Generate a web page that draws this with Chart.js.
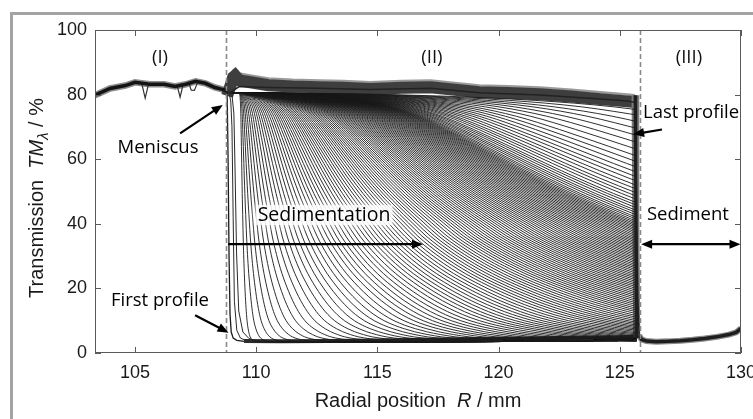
<!DOCTYPE html>
<html>
<head>
<meta charset="utf-8">
<script src="https://cdn.jsdelivr.net/npm/chart.js@4.4.1/dist/chart.umd.min.js"></script>
<style>
  html, body { margin: 0; padding: 0; background: #fff; }
  #wrap { width: 753px; height: 419px; }
</style>
</head>
<body>
<div id="wrap"><canvas id="chart" width="753" height="419"></canvas></div>
<script>
// axis ticks
const xTicks = [105, 110, 115, 120, 125, 130];
const yTicks = [0, 20, 40, 60, 80, 100];

// region (I): air above the meniscus
const regionIX = [103.35, 103.97, 104.6, 105.0, 105.6, 106.2, 106.65, 107.1, 107.5, 107.9, 108.3, 108.6, 108.8];
const regionIT = [79.8, 81.9, 82.8, 83.8, 83.2, 83.2, 82.5, 83.2, 84.1, 83.5, 82.2, 81.6, 81.2];
// single profiles with bubble artefacts in region (I)
const dipX = [105.28, 105.42, 105.56, null, 106.74, 106.86, 106.98, null, 107.22, 107.32, 107.45, 107.58];
const dipT = [83.4, 78.9, 83.3, null, 82.8, 79.2, 82.9, null, 83.6, 81.4, 81.3, 83.7];

// clear supernatant plateau in region (II)
const plateauX = [108.8, 108.95, 109.05, 109.13, 109.3, 109.7, 110.5, 111.5, 112.6, 113.6, 114.7, 116.0, 117.2, 118.2, 119.2, 120.4, 121.7, 123.0, 124.2, 125.3, 125.62];
const plateauEdgeT = [81.5, 85.0, 87.5, 88.0, 86.5, 86.0, 85.0, 84.6, 84.4, 84.2, 83.8, 84.2, 84.4, 83.6, 82.8, 82.6, 82.2, 81.5, 80.7, 80.0, 79.8];
const plateauCoreT = [79.6, 83.0, 85.4, 85.9, 84.4, 83.9, 82.9, 82.5, 82.3, 82.1, 81.7, 82.1, 82.3, 81.5, 80.7, 80.5, 80.1, 79.4, 78.6, 77.9, 77.7];

// earliest profiles, right after the start
const profile1X = [108.8, 108.84, 108.88, 108.92, 108.97, 109.05, 109.2, 109.5];
const profile1T = [81.2, 60, 30, 12, 6.5, 4.6, 3.9, 3.6];
const profile2X = [108.85, 108.95, 109.0, 109.05, 109.1, 109.2, 109.35, 109.6];
const profile2T = [81.5, 78, 70, 42, 16, 7, 4.6, 3.8];
const profile3X = [108.9, 109.0, 109.08, 109.13, 109.19, 109.28, 109.45, 109.7, 110.0];
const profile3T = [81.5, 80, 74, 56, 31, 13, 6.5, 4.5, 3.8];

// traced front shape: relative position u vs. transmission
const shapeOrigin = 109.3;
const shapeU = [0, 0.1, 0.2, 0.3, 0.38, 0.45, 0.52, 0.6, 0.68, 0.75, 0.83, 0.9, 1.0, 1.08, 1.15, 1.22, 1.3, 1.4, 1.5, 1.62, 1.75, 1.88, 2.0, 2.15, 2.3, 2.45, 2.6, 2.8, 3.0, 3.3, 3.7, 4.2];
const shapeT = [80.5, 80.3, 79.6, 78.2, 76.2, 73.3, 69.2, 64.0, 58.7, 54.2, 49.4, 45.5, 40.3, 36.2, 33.2, 30.5, 27.7, 24.6, 21.9, 19.0, 16.2, 13.8, 11.9, 10.0, 8.6, 7.5, 6.6, 5.7, 5.0, 4.4, 3.9, 3.6];

// radial position where each profile crosses 40 %
const frontR = [
  109.45, 109.58, 109.72, 109.87, 110.03, 110.2, 110.38, 110.56, 110.75, 110.94,
  111.13, 111.32, 111.51, 111.7, 111.89, 112.08, 112.27, 112.46, 112.65, 112.83,
  113.01, 113.19, 113.37, 113.55, 113.73, 113.91, 114.09, 114.26, 114.43, 114.6,
  114.77, 114.94, 115.11, 115.28, 115.45, 115.62, 115.79, 115.96, 116.12, 116.28,
  116.44, 116.6, 116.76, 116.92, 117.08, 117.24, 117.4, 117.56, 117.72, 117.87,
  118.02, 118.17, 118.32, 118.47, 118.62, 118.77, 118.92, 119.07, 119.22, 119.37,
  119.52, 119.67, 119.82, 119.97, 120.12, 120.27, 120.42, 120.57, 120.72, 120.87,
  121.02, 121.17, 121.32, 121.47, 121.62, 121.77, 121.92, 122.07, 122.22, 122.37,
  122.52, 122.67, 122.82, 122.97, 123.12, 123.27, 123.42, 123.57, 123.72, 123.87,
  124.02, 124.17, 124.32, 124.47, 124.62, 124.77, 124.92, 125.07, 125.22, 125.37,
  125.52, 125.68, 125.85, 126.05, 126.25, 126.5, 126.75, 127.0, 127.3, 127.6,
  127.9, 128.3, 128.7, 129.1, 129.6, 130.1, 130.7, 131.3, 132.0, 132.8,
  133.7, 134.7, 136.0, 137.5, 139.2, 141.2, 143.5, 146.5, 150.0
];

// turbid floor below the fronts
const floorX = [109.5, 111, 113, 115, 117, 119, 121, 123, 125, 125.6, 126.0];
const floorT = [3.6, 3.4, 3.3, 3.3, 3.4, 3.5, 3.6, 3.8, 4.0, 4.2, 4.3];
const floorBandT = [3.7, 3.6, 3.7, 3.9, 4.1, 4.3, 4.5, 4.7, 4.9, 5.0, 5.0];

// the cell bottom cuts every profile
const cellBottom = 125.7;
const dropX = [125.63, 125.66, 125.7];
const dropT = [79.8, 42, 4.6];
const lastProfileX = [108.9, 109.3, 110.5, 112.6, 114.7, 117.2, 119.2, 121.7, 124.2, 125.3, 125.62, 125.68, 125.74, 125.8];
const lastProfileT = [80.5, 82.5, 82.2, 82.0, 81.6, 82.0, 80.6, 79.9, 78.6, 78.0, 77.6, 55, 18, 5];

// region (III): sediment
const sedimentX = [125.8, 125.9, 126.1, 126.5, 127.0, 127.5, 128.0, 128.5, 129.0, 129.5, 129.8, 130.0];
const sedimentT = [5.4, 4.2, 3.7, 3.5, 3.6, 3.8, 4.1, 4.5, 5.0, 5.7, 6.4, 7.6];

const meniscusR = 108.74;
const bottomR = 125.82;

const pairs = (xs, ys) => xs.map((x, i) => ({ x: x, y: x === null ? null : ys[i] }));

function buildProfile(front) {
  const pts = [{ x: 108.9, y: 80.5 }];
  const span = front - shapeOrigin;
  for (let i = 0; i < shapeU.length; i++) {
    const x = shapeOrigin + shapeU[i] * span;
    if (x > 108.95) pts.push({ x: x, y: shapeT[i] });
    if (x >= cellBottom) return pts;   // drawn up to the cut only
  }
  // a profile whose front has fully passed continues along the floor
  const lastX = pts[pts.length - 1].x;
  floorX.forEach((x, i) => {
    if (x > lastX + 0.05) pts.push({ x: x, y: floorT[i] });
  });
  return pts;
}

const line = (data, color, width, order, extra) => Object.assign({
  data: data,
  borderColor: color,
  borderWidth: width,
  pointRadius: 0,
  fill: false,
  order: order,
  tension: 0
}, extra || {});

const datasets = [
  line(pairs(regionIX, regionIT), '#8c8c8c', 6.5, 30),
  line(pairs(regionIX, regionIT), '#141414', 3.5, 2),
  line(pairs(dipX, dipT), '#333', 1.2, 3, { spanGaps: false }),
  line(pairs(plateauX, plateauEdgeT), '#9a9a9a', 2.5, 26),
  line(pairs(plateauX, plateauCoreT), '#3e3e3e', 12, 25),
  line(pairs(floorX, floorBandT), '#2c2c2c', 4, 23, { cutAt: cellBottom }),
  line(pairs(dropX, dropT), '#7a7a7a', 7, 22),
  line(pairs(dropX, dropT), '#1e1e1e', 3, 5),
  line(pairs(sedimentX, sedimentT), '#8a8a8a', 6, 24),
  line(pairs(sedimentX, sedimentT), '#1e1e1e', 3.5, 4),
  line(pairs(profile1X, profile1T), '#1a1a1a', 1.3, 6),
  line(pairs(profile2X, profile2T), '#2a2a2a', 1, 7),
  line(pairs(profile3X, profile3T), '#2a2a2a', 1, 7),
  line(pairs(lastProfileX, lastProfileT), '#222', 1.5, 8)
];
frontR.forEach(r => {
  datasets.push(line(buildProfile(r), 'rgba(26,26,26,0.9)', 1, 10,
    { cubicInterpolationMode: 'monotone', cutAt: cellBottom }));
});

const tickFont = { family: '"Liberation Sans", Arial, sans-serif', size: 18 };
const labelFont = '18.5px "Open Sans", "Noto Sans", sans-serif';

// profiles stop at the cell bottom
const cellCut = {
  id: 'cellCut',
  beforeDatasetDraw(chart, args) {
    const ds = chart.data.datasets[args.index];
    if (!ds.cutAt) return;
    const a = chart.chartArea;
    const xr = chart.scales.x.getPixelForValue(ds.cutAt);
    chart.ctx.save();
    chart.ctx.beginPath();
    chart.ctx.rect(a.left, a.top, xr - a.left, a.bottom - a.top);
    chart.ctx.clip();
  },
  afterDatasetDraw(chart, args) {
    if (chart.data.datasets[args.index].cutAt) chart.ctx.restore();
  }
};

function arrowHead(ctx, x1, y1, x2, y2, len, half) {
  const a = Math.atan2(y2 - y1, x2 - x1);
  ctx.beginPath();
  ctx.moveTo(x2, y2);
  ctx.lineTo(x2 - len * Math.cos(a) + half * Math.sin(a), y2 - len * Math.sin(a) - half * Math.cos(a));
  ctx.lineTo(x2 - len * Math.cos(a) - half * Math.sin(a), y2 - len * Math.sin(a) + half * Math.cos(a));
  ctx.closePath();
  ctx.fill();
}

function arrow(ctx, x1, y1, x2, y2, both) {
  const len = 11, half = 4.5;
  const a = Math.atan2(y2 - y1, x2 - x1);
  ctx.beginPath();
  ctx.moveTo(both ? x1 + (len - 2) * Math.cos(a) : x1, both ? y1 + (len - 2) * Math.sin(a) : y1);
  ctx.lineTo(x2 - (len - 2) * Math.cos(a), y2 - (len - 2) * Math.sin(a));
  ctx.stroke();
  arrowHead(ctx, x1, y1, x2, y2, len, half);
  if (both) arrowHead(ctx, x2, y2, x1, y1, len, half);
}

const decorations = {
  id: 'decorations',
  beforeDraw(chart) {
    const ctx = chart.ctx;
    ctx.save();
    ctx.fillStyle = '#fff';
    ctx.fillRect(0, 0, chart.width, chart.height);
    // outer frame, open to the right and bottom
    ctx.strokeStyle = '#a3a3a3';
    ctx.lineWidth = 3;
    ctx.beginPath();
    ctx.moveTo(11.5, chart.height + 5);
    ctx.lineTo(11.5, 13.5);
    ctx.lineTo(chart.width + 5, 13.5);
    ctx.stroke();
    ctx.restore();
  },
  afterDraw(chart) {
    const ctx = chart.ctx;
    const xs = chart.scales.x, ys = chart.scales.y;
    const a = chart.chartArea;
    const px = v => xs.getPixelForValue(v);
    const py = v => ys.getPixelForValue(v);
    ctx.save();

    // region boundaries
    ctx.strokeStyle = '#8a8a8a';
    ctx.lineWidth = 1.6;
    ctx.setLineDash([5, 3]);
    [meniscusR, bottomR].forEach(r => {
      ctx.beginPath();
      ctx.moveTo(Math.round(px(r)) + 0.5, a.top);
      ctx.lineTo(Math.round(px(r)) + 0.5, a.bottom);
      ctx.stroke();
    });
    ctx.setLineDash([]);

    // plot frame and inward ticks
    ctx.strokeStyle = '#5a5a5a';
    ctx.lineWidth = 1;
    ctx.strokeRect(a.left + 0.5, a.top + 0.5, a.right - a.left - 1, a.bottom - a.top - 1);
    ctx.beginPath();
    xTicks.forEach(v => {
      const x = Math.round(px(v)) + 0.5;
      ctx.moveTo(x, a.bottom); ctx.lineTo(x, a.bottom - 6);
      ctx.moveTo(x, a.top); ctx.lineTo(x, a.top + 6);
    });
    yTicks.forEach(v => {
      const y = Math.round(py(v)) + 0.5;
      ctx.moveTo(a.left, y); ctx.lineTo(a.left + 6, y);
      ctx.moveTo(a.right, y); ctx.lineTo(a.right - 6, y);
    });
    ctx.stroke();

    // region names
    ctx.fillStyle = '#111';
    ctx.font = labelFont;
    ctx.textAlign = 'center';
    ctx.textBaseline = 'middle';
    ctx.fillText('(I)', px(106.03), py(91.5));
    ctx.fillText('(II)', px(117.25), py(91.5));
    ctx.fillText('(III)', px(127.85), py(91.5));

    // labels with arrows
    ctx.strokeStyle = '#000';
    ctx.fillStyle = '#000';
    ctx.lineWidth = 2.2;
    ctx.fillText('Meniscus', px(105.95), py(63.7));
    arrow(ctx, px(106.86), py(68.0), px(108.62), py(76.8));
    ctx.fillText('First profile', px(106.03), py(16.1));
    arrow(ctx, px(107.48), py(11.7), px(108.86), py(6.3));

    ctx.textAlign = 'left';
    ctx.fillText('Last profile', px(125.96), py(74.5));
    arrow(ctx, px(126.74), py(69.2), px(125.55), py(67.7));
    ctx.fillText('Sediment', px(126.12), py(42.7));
    arrow(ctx, px(125.88), py(33.7), px(129.98), py(33.7), true);

    // sedimentation label on a soft white patch
    ctx.font = '19.5px "Open Sans", "Noto Sans", sans-serif';
    const sw = ctx.measureText('Sedimentation').width;
    const sx = px(112.8) - sw / 2, sy = py(42.7);
    ctx.save();
    ctx.shadowColor = 'rgba(255,255,255,1)';
    ctx.shadowBlur = 10;
    ctx.fillStyle = 'rgba(255,255,255,0.75)';
    ctx.fillRect(sx - 2, sy - 10, sw + 4, 20);
    ctx.restore();
    ctx.fillStyle = '#000';
    ctx.fillText('Sedimentation', sx, sy);
    arrow(ctx, px(108.84), py(33.7), px(116.88), py(33.7));

    // axis titles
    const base = '20px "Liberation Sans", Arial, sans-serif';
    const ital = 'italic 20px "Liberation Sans", Arial, sans-serif';
    const drawParts = (parts, cx, cy, rot) => {
      ctx.save();
      ctx.translate(cx, cy);
      ctx.rotate(rot);
      ctx.textAlign = 'left';
      ctx.textBaseline = 'alphabetic';
      let total = 0;
      parts.forEach(p => { ctx.font = p.f; p.w = ctx.measureText(p.t).width; total += p.w; });
      let x = -total / 2;
      parts.forEach(p => {
        ctx.font = p.f;
        ctx.fillStyle = '#1a1a1a';
        ctx.fillText(p.t, x, p.dy || 0);
        x += p.w;
      });
      ctx.restore();
    };
    drawParts([
      { t: 'Radial position  ', f: base },
      { t: 'R', f: ital },
      { t: ' / mm', f: base }
    ], 418, 407, 0);
    drawParts([
      { t: 'Transmission  ', f: base },
      { t: 'TM', f: ital },
      { t: 'λ', f: 'italic 15px "Liberation Sans", Arial, sans-serif', dy: 5 },
      { t: ' / %', f: base }
    ], 43, 198, -Math.PI / 2);

    ctx.restore();
  }
};

new Chart(document.getElementById('chart'), {
  type: 'line',
  data: { datasets: datasets },
  plugins: [cellCut, decorations],
  options: {
    responsive: false,
    animation: false,
    devicePixelRatio: 1,
    events: [],
    layout: { autoPadding: false, padding: { left: 0, right: 12, top: 30, bottom: 0 } },
    plugins: { legend: { display: false }, tooltip: { enabled: false } },
    scales: {
      x: {
        type: 'linear',
        min: 103.35,
        max: 130,
        afterBuildTicks: s => { s.ticks = xTicks.map(v => ({ value: v })); },
        afterFit: s => { s.height = 66; s.paddingLeft = 0; s.paddingRight = 0; },
        grid: { display: false, drawTicks: false },
        border: { display: false },
        ticks: { font: tickFont, color: '#1a1a1a', padding: 9, maxRotation: 0, autoSkip: false }
      },
      y: {
        type: 'linear',
        min: 0,
        max: 100,
        afterBuildTicks: s => { s.ticks = yTicks.map(v => ({ value: v })); },
        afterFit: s => { s.width = 95; s.paddingTop = 0; s.paddingBottom = 0; },
        grid: { display: false, drawTicks: false },
        border: { display: false },
        ticks: { font: tickFont, color: '#1a1a1a', padding: 8, autoSkip: false }
      }
    }
  }
});
</script>
</body>
</html>
